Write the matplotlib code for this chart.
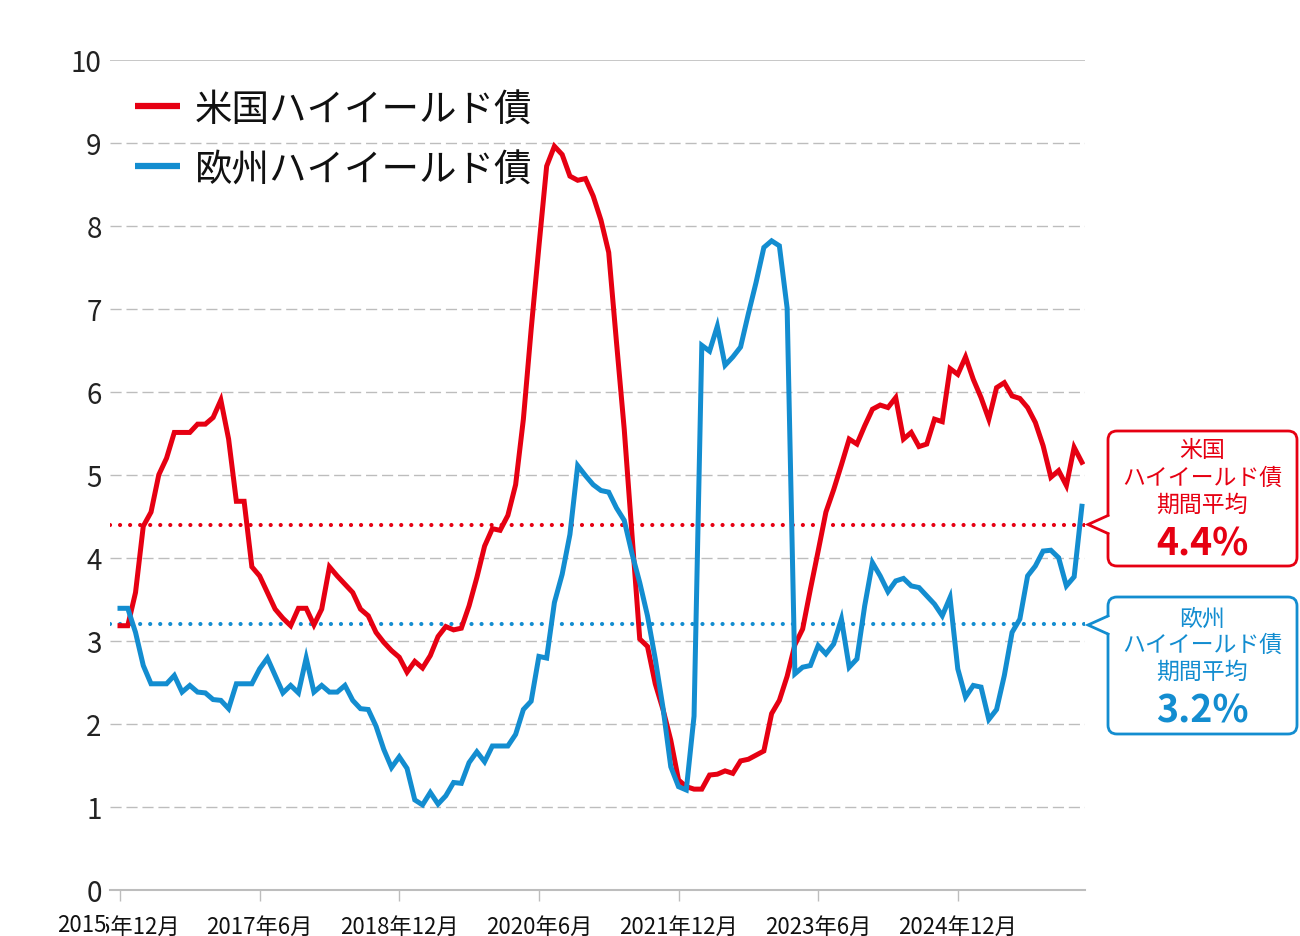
import matplotlib
matplotlib.use('Agg')
import matplotlib.pyplot as plt
from matplotlib.lines import Line2D
from matplotlib.patches import FancyBboxPatch, Polygon
from matplotlib.transforms import IdentityTransform
import numpy as np

plt.rcParams['font.family'] = ['Noto Sans CJK JP', 'DejaVu Sans']

# 月次データ (2015年12月〜)
us_hy = [3.18, 3.18, 3.58, 4.38, 4.55, 5.00, 5.20, 5.51, 5.51, 5.51,
         5.61, 5.61, 5.69, 5.90, 5.43, 4.68, 4.68, 3.89, 3.78, 3.58,
         3.38, 3.27, 3.18, 3.39, 3.39, 3.19, 3.38, 3.89, 3.78, 3.68,
         3.58, 3.38, 3.30, 3.10, 2.98, 2.88, 2.80, 2.62, 2.75, 2.67,
         2.82, 3.05, 3.17, 3.13, 3.15, 3.42, 3.76, 4.14, 4.35, 4.33,
         4.51, 4.88, 5.67, 6.75, 7.75, 8.72, 8.96, 8.86, 8.60, 8.55,
         8.57, 8.36, 8.07, 7.68, 6.60, 5.55, 4.28, 3.02, 2.93, 2.48,
         2.17, 1.80, 1.32, 1.24, 1.21, 1.21, 1.38, 1.39, 1.43, 1.40,
         1.55, 1.57, 1.62, 1.67, 2.12, 2.28, 2.57, 2.95, 3.14, 3.62,
         4.08, 4.55, 4.82, 5.12, 5.43, 5.37, 5.59, 5.79, 5.84, 5.81,
         5.93, 5.43, 5.51, 5.34, 5.37, 5.67, 5.64, 6.28, 6.21, 6.42,
         6.15, 5.93, 5.67, 6.05, 6.11, 5.95, 5.92, 5.81, 5.63, 5.35,
         4.97, 5.05, 4.87, 5.33, 5.15]
eu_hy = [3.39, 3.39, 3.10, 2.70, 2.48, 2.48, 2.48, 2.58, 2.38, 2.46,
         2.38, 2.37, 2.29, 2.28, 2.18, 2.48, 2.48, 2.48, 2.66, 2.79,
         2.58, 2.37, 2.46, 2.37, 2.79, 2.38, 2.46, 2.38, 2.38, 2.46,
         2.28, 2.18, 2.17, 1.97, 1.69, 1.47, 1.60, 1.46, 1.08, 1.02,
         1.17, 1.03, 1.13, 1.29, 1.28, 1.53, 1.66, 1.54, 1.73, 1.73,
         1.73, 1.87, 2.17, 2.27, 2.81, 2.79, 3.46, 3.80, 4.28, 5.11,
         4.99, 4.88, 4.81, 4.79, 4.60, 4.45, 4.05, 3.70, 3.30, 2.78,
         2.19, 1.48, 1.24, 1.20, 2.09, 6.56, 6.49, 6.79, 6.32, 6.42,
         6.54, 6.94, 7.32, 7.74, 7.82, 7.76, 7.01, 2.60, 2.68, 2.70,
         2.94, 2.84, 2.96, 3.26, 2.68, 2.78, 3.42, 3.94, 3.78, 3.59,
         3.72, 3.75, 3.66, 3.64, 3.54, 3.44, 3.30, 3.52, 2.66, 2.32,
         2.46, 2.44, 2.05, 2.17, 2.58, 3.10, 3.26, 3.78, 3.90, 4.08,
         4.09, 4.00, 3.66, 3.77, 4.62]
us_avg = 4.4
eu_avg = 3.2

tick_pos = [0, 18, 36, 54, 72, 90, 108]
tick_labels = ['2015年12月', '2017年6月', '2018年12月', '2020年6月',
               '2021年12月', '2023年6月', '2024年12月']
yticks = list(range(0, 11))

RED = '#E60012'
BLUE = '#138DD0'
W, H = 1300, 937

fig = plt.figure(figsize=(13, 9.37), dpi=100)
ax = fig.add_axes([110 / W, (H - 890.5) / H, 975 / W, 829.5 / H])

x = np.arange(len(us_hy))
ax.set_xlim(-1.29, 124.4)
ax.set_ylim(0, 10)

# グリッド
for v in range(1, 10):
    ax.axhline(v, color='#BDBDBD', lw=1, dashes=(8, 3.5), zorder=0)
ax.axhline(10, color='#BDBDBD', lw=1.2, zorder=0)

# 期間平均
ax.axhline(us_avg, color=RED, lw=3, linestyle=(0, (0.01, 2.4)),
           dash_capstyle='round', zorder=2)
ax.axhline(eu_avg, color=BLUE, lw=3, linestyle=(0, (0.01, 2.4)),
           dash_capstyle='round', zorder=2)

ax.plot(x, us_hy, color=RED, lw=3.6, zorder=3, solid_joinstyle='miter')
ax.plot(x, eu_hy, color=BLUE, lw=3.6, zorder=4, solid_joinstyle='miter')

for s in ['top', 'right', 'left']:
    ax.spines[s].set_visible(False)
ax.spines['bottom'].set_color('#BDBDBD')
ax.spines['bottom'].set_linewidth(1.5)

ax.set_xticks(tick_pos)
ax.set_xticklabels(tick_labels, fontsize=16, color='#111111')
ax.tick_params(axis='x', length=8, width=1, color='#BDBDBD', pad=10)
ax.set_yticks(yticks)
ax.set_yticklabels([str(v) for v in yticks], fontsize=20, color='#222222')
ax.tick_params(axis='y', length=0, pad=6)

# 先頭ラベルに重なる「2015」
fig.text(106 / W, 1 - 926 / H, '2015', ha='right', va='center', fontsize=16,
         color='#111111', bbox=dict(fc='white', ec='none', pad=0))

# 凡例
for py, color, label in [(107, RED, '米国ハイイールド債'), (167, BLUE, '欧州ハイイールド債')]:
    fig.add_artist(Line2D([135 / W, 180 / W], [1 - py / H] * 2, color=color,
                          lw=4.5, solid_capstyle='butt'))
    fig.text(195 / W, 1 - (py + 4) / H, label, fontsize=27, ha='left', va='center',
             color='#111111')


# 吹き出し
def callout(top, bottom, tip_y, color, title, value, line_ys, value_y):
    tr = IdentityTransform()
    box = FancyBboxPatch((1108, H - bottom), 189, bottom - top,
                         boxstyle='round,pad=0,rounding_size=9',
                         fc='white', ec=color, lw=2, transform=tr)
    fig.add_artist(box)
    tri = Polygon([(1111, H - tip_y + 9), (1088, H - tip_y), (1111, H - tip_y - 9)],
                  closed=True, fc='white', ec='none', transform=tr)
    fig.add_artist(tri)
    fig.add_artist(Line2D([1108, 1088, 1108], [H - tip_y + 9, H - tip_y, H - tip_y - 9],
                          color=color, lw=2, transform=tr, solid_joinstyle='miter'))
    for txt, py in zip(title, line_ys):
        fig.text(1202 / W, 1 - py / H, txt, fontsize=16.5, ha='center',
                 va='center', color=color)
    fig.text(1202 / W, 1 - value_y / H, value, fontsize=27, ha='center',
             va='center', color=color, fontweight='bold')


callout(432, 567, 525.5, RED, ['米国', 'ハイイールド債', '期間平均'], '4.4%',
        [451, 478, 505], 544)
callout(598, 735, 626, BLUE, ['欧州', 'ハイイールド債', '期間平均'], '3.2%',
        [619, 645, 672], 711)

fig.savefig('out.png', dpi=100)
